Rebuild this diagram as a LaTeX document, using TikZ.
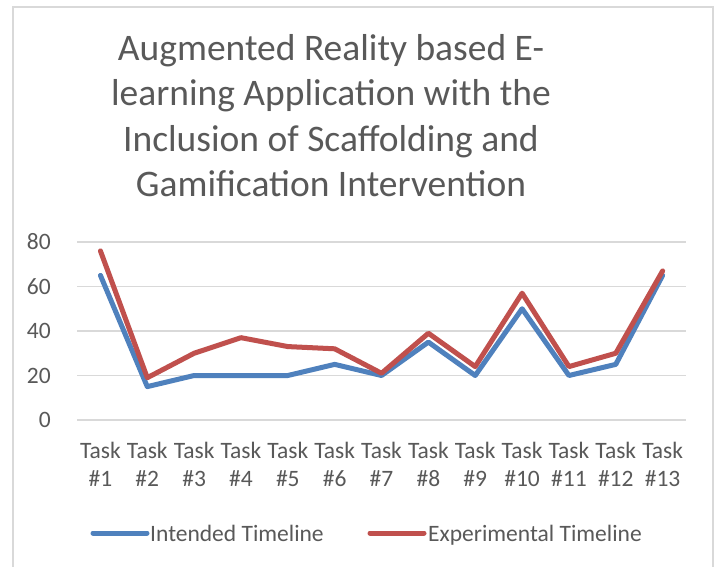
\documentclass[tikz,border=0pt]{standalone}
\usepackage{fontspec}
\setmainfont{Carlito}
\definecolor{txtgray}{HTML}{595959}
\definecolor{gridgray}{HTML}{D9D9D9}
\definecolor{serblue}{HTML}{4F81BD}
\definecolor{serred}{HTML}{C0504D}
\begin{document}
\begin{tikzpicture}[x=1pt,y=-1pt,
  gridline/.style={gridgray,line width=1.5pt},
  series/.style={line width=5pt,line join=round,line cap=round},
  ticklbl/.style={text=txtgray,font=\fontsize{23.5}{28}\selectfont,inner sep=0pt},
  titlelbl/.style={text=txtgray,font=\fontsize{37.5}{45}\selectfont,inner sep=0pt}]
\useasboundingbox (0,0) rectangle (720,567);
\begin{scope}
\clip (0,0) rectangle (720,567);
\draw[gridgray,line width=1.2pt,fill=white] (13,7) rectangle (713,600);
\end{scope}
% title
\node[titlelbl,anchor=base] (t1) at (331,61) {Augmented Reality based E-};
\node[titlelbl,anchor=base] (t2) at (331,106) {learning Application with the};
\node[titlelbl,anchor=base] (t3) at (331,151) {Inclusion of Scaffolding and};
\node[titlelbl,anchor=base] (t4) at (331,196) {Gamification Intervention};
% gridlines and y labels
\foreach \v in {0,20,40,60,80}{
  \draw[gridline] (77,{420-2.225*\v}) -- (686,{420-2.225*\v});
  \node[ticklbl,anchor=east] (y\v) at (51,{420-2.225*\v}) {\v};
}
% category labels
\foreach \i in {1,...,13}{
  \node[ticklbl,anchor=base] (ca\i) at ({77+46.85*(\i-0.5)},458) {Task};
  \node[ticklbl,anchor=base] (cb\i) at ({77+46.85*(\i-0.5)},486) {\#\i};
}
% series
\def\px#1{{77+46.85*(#1-0.5)}}
\draw[series,serblue] (\px{1},{420-2.225*65})
  \foreach \i/\v in {2/15,3/20,4/20,5/20,6/25,7/20,8/35,9/20,10/50,11/20,12/25,13/65}{ -- (\px{\i},{420-2.225*\v}) };
\draw[series,serred] (\px{1},{420-2.225*76})
  \foreach \i/\v in {2/19,3/30,4/37,5/33,6/32,7/21,8/39,9/24,10/57,11/24,12/30,13/67}{ -- (\px{\i},{420-2.225*\v}) };
% legend
\coordinate (lb1) at (93,533); \coordinate (lb2) at (147,533);
\draw[series,serblue] (lb1) -- (lb2);
\node[ticklbl,anchor=base west] (lbt) at (150,541) {Intended Timeline};
\coordinate (lr1) at (370,533); \coordinate (lr2) at (424,533);
\draw[series,serred] (lr1) -- (lr2);
\node[ticklbl,anchor=base west] (lrt) at (428,541) {Experimental Timeline};
\end{tikzpicture}
\end{document}
